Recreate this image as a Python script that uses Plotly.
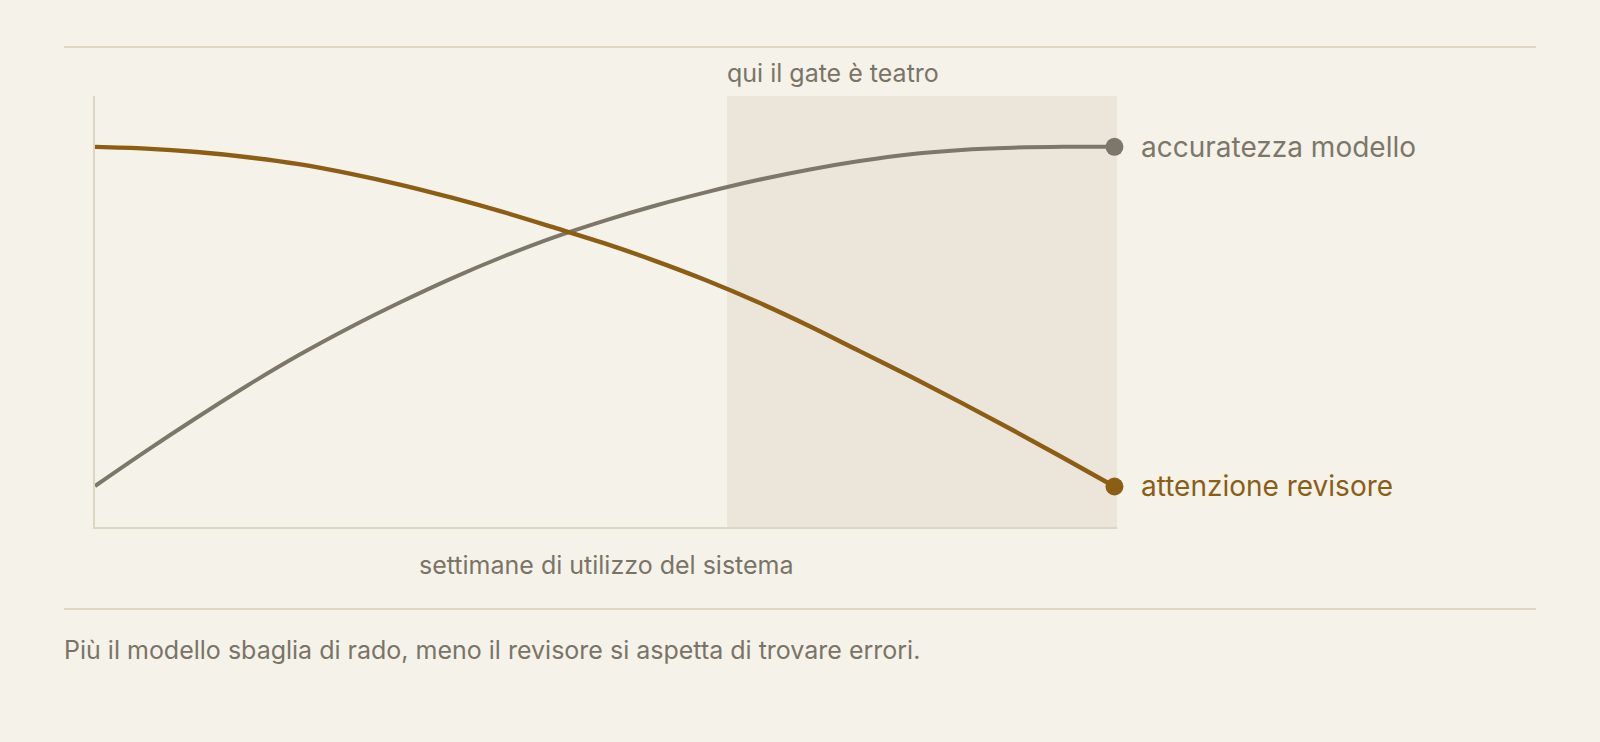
import plotly.graph_objects as go

# settimane (scala 0-100) e valori
settimane = [0, 5, 10, 15, 20, 25, 30, 35, 40, 45, 50, 55, 60, 65, 70, 75, 80, 85, 90, 95, 100]
accuratezza = [9.5, 17.6, 25.4, 32.9, 39.9, 46.3, 52.2, 57.7, 62.7, 67.2, 71.1,
               74.6, 77.7, 80.5, 82.9, 84.9, 86.5, 87.5, 88.0, 88.2, 88.2]
attenzione = [88.2, 87.8, 87.0, 85.8, 84.2, 82.0, 79.4, 76.4, 73.1, 69.5, 65.8,
              61.7, 57.2, 52.2, 46.7, 40.8, 34.9, 28.8, 22.5, 16.0, 9.4]

inizio_teatro = 62
fine_x = 100.25

BG = "#f5f2ea"
SHADE = "#ece5da"
BROWN = "#8b5e13"
GRAY = "#7d776a"
TEXT = "#7a7466"
RULE = "#ddd6c4"
FONT = "Inter"

W, H = 1600, 742
L, R, T, B = 95, 1117, 96, 527


def px(x):
    return (x - L) / (R - L)


def py(y):
    return (B - y) / (B - T)


fig = go.Figure()

fig.add_trace(go.Scatter(x=settimane, y=accuratezza, mode="lines", line_shape="spline",
                         line=dict(color=GRAY, width=4), hoverinfo="skip"))
fig.add_trace(go.Scatter(x=settimane, y=attenzione, mode="lines", line_shape="spline",
                         line=dict(color=BROWN, width=4.4), hoverinfo="skip"))
# punti finali
fig.add_trace(go.Scatter(x=[settimane[-1]], y=[accuratezza[-1]], mode="markers",
                         marker=dict(color=GRAY, size=18), cliponaxis=False, hoverinfo="skip"))
fig.add_trace(go.Scatter(x=[settimane[-1]], y=[attenzione[-1]], mode="markers",
                         marker=dict(color=BROWN, size=18), cliponaxis=False, hoverinfo="skip"))

fig.add_vrect(x0=inizio_teatro, x1=fine_x, fillcolor=SHADE, line_width=0, layer="below")

# righe orizzontali sopra e sotto
fig.add_shape(type="line", xref="paper", yref="paper", x0=px(64), x1=px(1536),
              y0=py(47), y1=py(47), line=dict(color=RULE, width=2))
fig.add_shape(type="line", xref="paper", yref="paper", x0=px(64), x1=px(1536),
              y0=py(609), y1=py(609), line=dict(color=RULE, width=2))

fig.add_annotation(x=inizio_teatro, xref="x", y=py(73), yref="paper",
                   text="qui il gate è teatro", showarrow=False,
                   xanchor="left", yanchor="middle", xshift=-2,
                   font=dict(family=FONT, size=25, color=TEXT))
fig.add_annotation(x=settimane[-1], y=accuratezza[-1], text="accuratezza modello",
                   showarrow=False, xanchor="left", yanchor="middle", xshift=25,
                   font=dict(family=FONT, size=28, color=GRAY))
fig.add_annotation(x=settimane[-1], y=attenzione[-1], text="attenzione revisore",
                   showarrow=False, xanchor="left", yanchor="middle", xshift=25,
                   font=dict(family=FONT, size=28, color=BROWN))
fig.add_annotation(x=0.5, xref="paper", y=py(565), yref="paper",
                   text="settimane di utilizzo del sistema", showarrow=False,
                   xanchor="center", yanchor="middle",
                   font=dict(family=FONT, size=25, color=TEXT))
fig.add_annotation(x=px(64), xref="paper", y=py(650), yref="paper",
                   text="Più il modello sbaglia di rado, meno il revisore si aspetta di trovare errori.",
                   showarrow=False, xanchor="left", yanchor="middle", xshift=-2,
                   font=dict(family=FONT, size=25, color=TEXT))

fig.update_xaxes(range=[0, fine_x], showgrid=False, zeroline=False, showticklabels=False,
                 ticks="", showline=True, linecolor=RULE, linewidth=2)
fig.update_yaxes(range=[0, 100], showgrid=False, zeroline=False, showticklabels=False,
                 ticks="", showline=True, linecolor=RULE, linewidth=2)

fig.update_layout(width=W, height=H, paper_bgcolor=BG, plot_bgcolor=BG,
                  margin=dict(l=L, r=W - R, t=T, b=H - B), showlegend=False,
                  font=dict(family=FONT, color=TEXT))

fig.write_html("out.html", config={"displayModeBar": False},
               post_script="document.body.style.margin='0';document.body.style.background='%s';" % BG)
